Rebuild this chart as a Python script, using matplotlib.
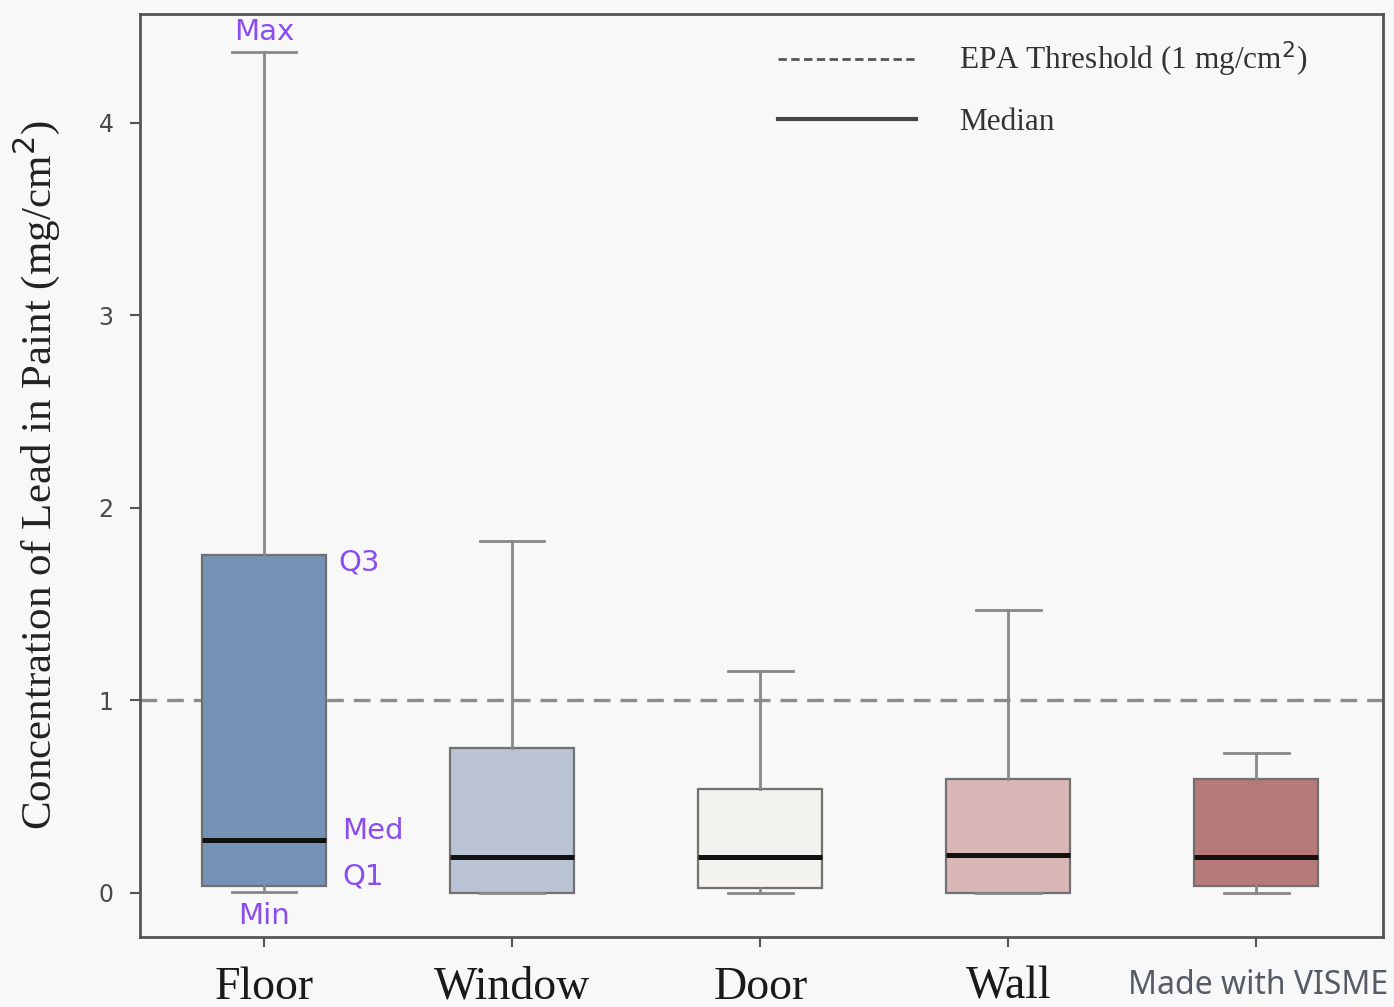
import matplotlib
matplotlib.use("Agg")
import matplotlib.pyplot as plt
from matplotlib.lines import Line2D

# Surface categories (last tick label is covered by the watermark)
categories = ["Floor", "Window", "Door", "Wall", ""]
whisker_low = [0.005, 0.0, 0.0, 0.0, 0.0]
q1_values = [0.036, 0.0, 0.026, 0.0, 0.036]
medians = [0.275, 0.187, 0.187, 0.197, 0.187]
q3_values = [1.756, 0.753, 0.54, 0.592, 0.592]
whisker_high = [4.37, 1.83, 1.153, 1.47, 0.727]
box_colors = ["#7594b5", "#b9c3d4", "#f4f2ef", "#d9b7b7", "#b77a79"]
epa_threshold = 1.0
y_ticks = [0, 1, 2, 3, 4]

serif = ["Liberation Serif", "DejaVu Serif"]
purple = "#8a4df0"

fig = plt.figure(figsize=(13.94, 10.07), dpi=100, facecolor="#f8f8f8")
ax = fig.add_axes([140 / 1394, 1 - 937 / 1007, (1383 - 140) / 1394, (937 - 14) / 1007])
ax.set_facecolor("#f8f8f8")

stats = []
for i, name in enumerate(categories):
    stats.append(dict(label=name, whislo=whisker_low[i], q1=q1_values[i], med=medians[i],
                      q3=q3_values[i], whishi=whisker_high[i], fliers=[]))

bp = ax.bxp(stats, positions=range(len(categories)), widths=0.5, patch_artist=True,
            showfliers=False,
            boxprops=dict(edgecolor="#707070", linewidth=1.6),
            whiskerprops=dict(color="#888888", linewidth=2.0),
            capprops=dict(color="#888888", linewidth=2.0),
            medianprops=dict(color="#111111", linewidth=3.6))
for patch, c in zip(bp["boxes"], box_colors):
    patch.set_facecolor(c)
for cap in bp["caps"]:
    x0, x1 = cap.get_xdata()
    m = (x0 + x1) / 2
    cap.set_xdata([m - 0.13, m + 0.13])

ax.axhline(epa_threshold, color="#8c8c8c", linestyle=(0, (5, 3)), linewidth=2.4, zorder=0)

ax.set_xlim(-0.5, 4.51)
ax.set_ylim(-0.229, 4.566)
ax.set_yticks(y_ticks)
ax.set_yticklabels([str(t) for t in y_ticks], fontsize=17, color="#4a4a4a")
ax.set_xticks(range(len(categories)))
ax.set_xticklabels(categories, fontsize=33, family=serif, color="#1a1a1a")
ax.tick_params(axis="both", direction="out", length=7, width=1.5, color="#555555")
ax.tick_params(axis="x", pad=14)
ax.tick_params(axis="y", pad=12)
for s in ax.spines.values():
    s.set_color("#555555")
    s.set_linewidth(2.0)

ax.set_ylabel("Concentration of Lead in Paint (mg/cm$^2$)", fontsize=31, family=serif,
              color="#222222", labelpad=26)

handles = [Line2D([], [], color="#555555", linestyle=(0, (3, 1.6)), linewidth=2.0),
           Line2D([], [], color="#444444", linestyle="-", linewidth=3.0)]
leg = ax.legend(handles, ["EPA Threshold (1 mg/cm$^2$)", "Median"], loc="upper left",
                bbox_to_anchor=((778 - 140) / 1243, 1 - (40 - 14) / 923), frameon=False,
                borderpad=0, borderaxespad=0, handlelength=4.4,
                handletextpad=1.4, labelspacing=0.9,
                prop=dict(family=serif, size=22.5))
for t in leg.get_texts():
    t.set_color("#333333")

# Annotations on the Floor box
fx = 0
fs = 21
ax.text(fx, 4.473, "Max", ha="center", va="center", color=purple, fontsize=fs)
ax.text(fx + 0.298, 1.714, "Q3", ha="left", va="center", color=purple, fontsize=fs)
ax.text(fx + 0.315, 0.322, "Med", ha="left", va="center", color=purple, fontsize=fs)
ax.text(fx + 0.315, 0.083, "Q1", ha="left", va="center", color=purple, fontsize=fs)
ax.text(fx, -0.119, "Min", ha="center", va="center", color=purple, fontsize=fs)

fig.text(1128 / 1394, 1 - 985 / 1007, "Made with VISME", ha="left", va="center",
         fontsize=23, color="#555c66", family=["Noto Sans", "DejaVu Sans"])

fig.savefig("out.png", dpi=100, facecolor=fig.get_facecolor())
